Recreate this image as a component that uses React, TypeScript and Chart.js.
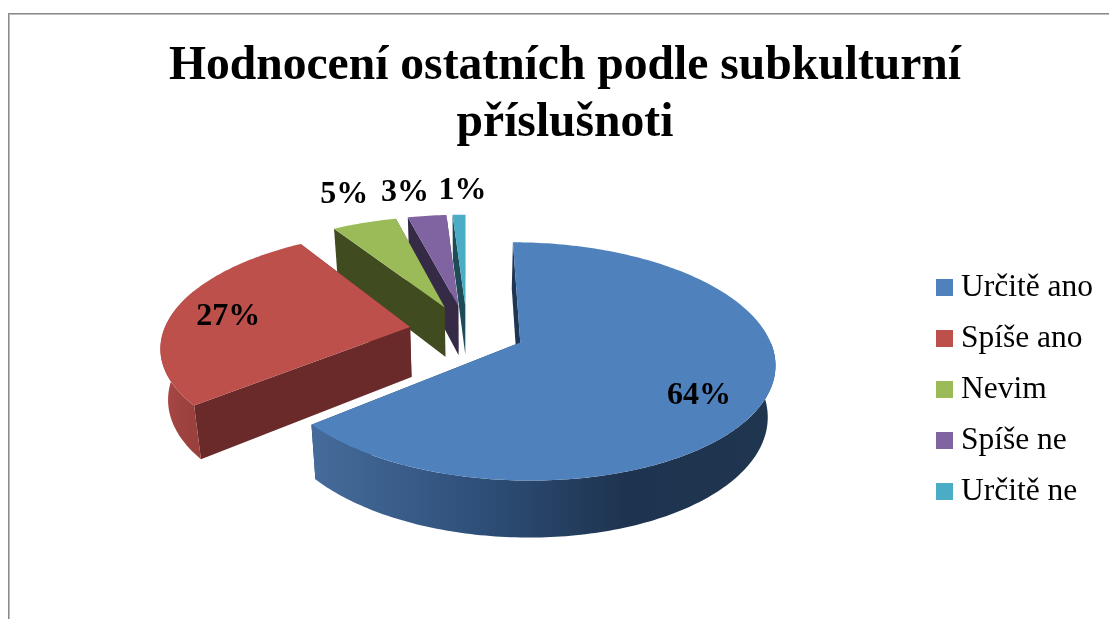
import React, { useEffect, useRef } from "react";
import { Chart, registerables } from "chart.js";

Chart.register(...registerables);

const categories = ["Určitě ano", "Spíše ano", "Nevim", "Spíše ne", "Určitě ne"];
const values = [64, 27, 5, 3, 1];
const titleLines = ["Hodnocení ostatních podle subkulturní", "příslušnoti"];
const faceColors = ["#4F81BD", "#BE504C", "#9BBB59", "#8064A2", "#4BACC6"];
const wallColors = ["#1F3552", "#6B2A2A", "#404B20", "#352B47", "#1F4A57"];
const rimStops: [number, string][][] = [
  [[0, "#466C9C"], [0.35, "#2F507A"], [0.68, "#1E334F"], [1, "#20364F"]],
  [[0, "#A84845"], [1, "#9A403D"]],
  [[0, "#404B20"], [1, "#404B20"]],
  [[0, "#352B47"], [1, "#352B47"]],
  [[0, "#1F4A57"], [1, "#1F4A57"]],
];
const labelReach = [1.0, 1.0, 1.5, 1.5, 1.5];
const labelNudge = [[-7, 13], [-1, 3], [-2, -9], [-15, -3], [5, -4]];

const EXPLOSION = 0.235;
const CX = 467;
const CY = 331;
const RX = 246.5;
const RY = 112.5;
const PERSPECTIVE = 0.157;
const BOTTOM_SCALE = 0.975;
const FONT = "'Liberation Serif', 'Times New Roman', serif";

const project = (u: number, v: number) => {
  const den = 1 - PERSPECTIVE * v;
  return { x: CX + (RX * u) / den, y: CY + (RY * v) / den };
};
const lower = (p: { x: number; y: number }) => ({
  x: CX + (p.x - CX) * BOTTOM_SCALE,
  y: p.y + 49 + 0.045 * (p.y - 304),
});

const swatch = (color: string) => {
  const c = document.createElement("canvas");
  c.width = 17;
  c.height = 17;
  const g = c.getContext("2d")!;
  g.fillStyle = color;
  g.fillRect(0, 0, 17, 17);
  return c;
};

const pie3d = {
  id: "pie3d",
  beforeDatasetDraw(chart: any, args: any) {
    const ctx: CanvasRenderingContext2D = chart.ctx;
    const arcs = args.meta.data;

    ctx.save();
    ctx.fillStyle = "#8A8A8A";
    ctx.fillRect(8, 13, 1101, 1);
    ctx.fillRect(8, 13, 1, 606);
    ctx.fillStyle = "#BDBDBD";
    ctx.fillRect(9, 14, 1100, 1);
    ctx.fillRect(9, 14, 1, 605);

    const order = arcs.map((_: any, i: number) => i).reverse();
    for (const i of order) {
      const a0 = arcs[i].startAngle + Math.PI / 2;
      const a1 = arcs[i].endAngle + Math.PI / 2;
      const mid = (a0 + a1) / 2;
      const du = EXPLOSION * Math.sin(mid);
      const dv = -EXPLOSION * Math.cos(mid);
      const at = (t: number) => project(du + Math.sin(t), dv - Math.cos(t));
      const apex = project(du, dv);
      const fill = (pts: { x: number; y: number }[], style: any) => {
        ctx.beginPath();
        pts.forEach((p, k) => (k ? ctx.lineTo(p.x, p.y) : ctx.moveTo(p.x, p.y)));
        ctx.closePath();
        ctx.fillStyle = style;
        ctx.fill();
      };
      const sweep = (s: number, e: number) => {
        const n = Math.max(2, Math.ceil(((e - s) * 180) / Math.PI));
        const out = [];
        for (let k = 0; k <= n; k++) out.push(at(s + ((e - s) * k) / n));
        return out;
      };

      // radial walls
      for (const edge of [a0, a1]) {
        const p = at(edge);
        fill([apex, p, lower(p), lower(apex)], wallColors[i]);
      }
      // rim
      const s = Math.max(a0, Math.PI / 2);
      const e = Math.min(a1, (Math.PI * 290) / 180);
      if (e > s) {
        const top = sweep(s, e);
        const xs = top.map((p) => p.x);
        const grad = ctx.createLinearGradient(Math.min(...xs), 0, Math.max(...xs), 0);
        rimStops[i].forEach(([o, c]) => grad.addColorStop(o, c));
        fill([...top, ...top.map(lower).reverse()], grad);
      }
      // top face
      fill([apex, ...sweep(a0, a1)], faceColors[i]);
    }

    // percentage labels
    ctx.fillStyle = "#000";
    ctx.textAlign = "center";
    ctx.textBaseline = "middle";
    ctx.font = `bold 32px ${FONT}`;
    const total = values.reduce((x, y) => x + y, 0);
    arcs.forEach((arc: any, i: number) => {
      const mid = (arc.startAngle + arc.endAngle) / 2 + Math.PI / 2;
      const p = project(labelReach[i] * Math.sin(mid), -labelReach[i] * Math.cos(mid));
      ctx.fillText(
        `${Math.round((values[i] / total) * 100)}%`,
        p.x + labelNudge[i][0],
        p.y + labelNudge[i][1]
      );
    });
    ctx.restore();
    return false;
  },
};

export default function App() {
  const ref = useRef<HTMLCanvasElement>(null);
  useEffect(() => {
    const chart = new Chart(ref.current!, {
      type: "pie",
      data: {
        labels: categories,
        datasets: [{ data: values, backgroundColor: faceColors, borderWidth: 0 }],
      },
      options: {
        animation: false,
        responsive: false,
        devicePixelRatio: 1,
        layout: { padding: { left: 27, right: 27 } },
        plugins: {
          tooltip: { enabled: false },
          title: {
            display: true,
            text: titleLines,
            color: "#000",
            font: { family: FONT, size: 47.6, weight: "bold", lineHeight: 1.2 },
            padding: { top: 38, bottom: 8 },
          },
          legend: {
            display: true,
            position: "right",
            fullSize: false,
            labels: {
              color: "#000",
              font: { family: FONT, size: 31.5 },
              boxWidth: 1,
              usePointStyle: true,
              padding: 19.5,
              generateLabels: () =>
                categories.map((text, i) => ({
                  text,
                  fillStyle: faceColors[i],
                  strokeStyle: faceColors[i],
                  lineWidth: 0,
                  pointStyle: swatch(faceColors[i]),
                  index: i,
                  hidden: false,
                })),
            },
          },
        },
      } as any,
      plugins: [pie3d],
    });
    return () => chart.destroy();
  }, []);
  return (
    <div style={{ position: "fixed", inset: 0, overflow: "hidden", background: "#fff" }}>
      <canvas ref={ref} width={1130} height={619} style={{ display: "block" }} />
    </div>
  );
}
